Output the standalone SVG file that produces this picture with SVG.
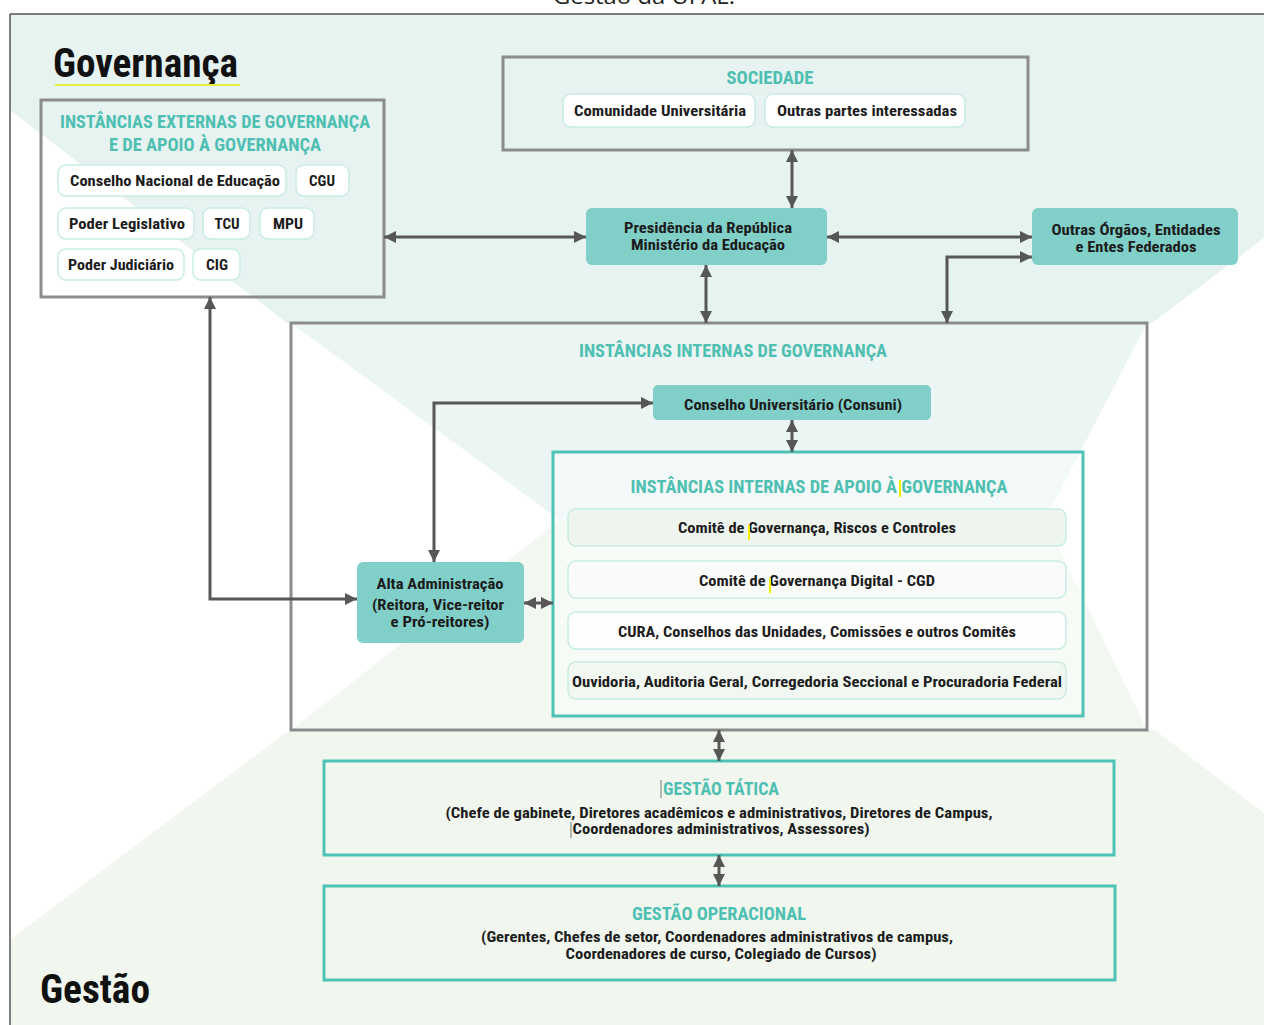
<svg xmlns="http://www.w3.org/2000/svg" width="1264" height="1025" viewBox="0 0 1264 1025">
<style>
.t{font-family:"Liberation Sans Narrow","Roboto Condensed","DejaVu Sans Condensed","Liberation Sans",sans-serif;font-weight:bold;text-anchor:middle;fill:#1c1c1c;font-size:15px}
.s{font-size:14px}
.h{fill:#4fbfb2;font-size:19px}
.big{font-family:"Liberation Sans Narrow","Roboto Condensed","Liberation Sans",sans-serif;font-weight:bold;fill:#111;font-size:40px}
.pill{fill:#fff;stroke:#c9ebe6;stroke-width:1.5}
.row{stroke:#c9ebe6;stroke-width:1.5}
.gbox{fill:none;stroke:#8c8c8c;stroke-width:3}
.tbox{fill:none;stroke:#4ec3b5;stroke-width:3}
.node{fill:#80cfc8}
.c{fill:none;stroke:#575757;stroke-width:3;marker-start:url(#a);marker-end:url(#a)}
.cur{stroke:#777;stroke-width:1}
.yel{fill:#f2f000}
</style>
<defs>
<marker id="a" viewBox="0 0 10 10" refX="10" refY="5" markerWidth="12" markerHeight="12" markerUnits="userSpaceOnUse" orient="auto-start-reverse">
<path d="M0,0 L10,5 L0,10 z" fill="#575757"/>
</marker>
</defs>
<rect width="1264" height="1025" fill="#fff"/>
<text x="553" y="4" style="font-family:'Open Sans','Liberation Sans',sans-serif;font-size:22px;fill:#222" textLength="182" lengthAdjust="spacingAndGlyphs">Gestão da UFAL.</text>
<g id="background">
<rect x="10" y="14" width="1254" height="1011" fill="#fff"/>
<polygon points="10,14 1264,14 1264,238 1152,323 287,323 10,110" fill="#e6f3f1"/>
<polygon points="10,1025 1264,1025 1264,813 1155,730 290,730 10,940" fill="#f1f7ef"/>
<line x1="10" y1="14" x2="1264" y2="14" stroke="#555" stroke-width="1.5"/>
<line x1="10" y1="14" x2="10" y2="1025" stroke="#555" stroke-width="1.5"/>
</g>
<g id="titles">
<text class="big" x="53" y="77" textLength="185" lengthAdjust="spacingAndGlyphs">Governança</text>
<line x1="55" y1="85" x2="240" y2="85" stroke="#e4ef3a" stroke-width="2"/>
<text class="big" x="40" y="1003" textLength="110" lengthAdjust="spacingAndGlyphs">Gestão</text>
</g>
<g id="externas">
<rect class="gbox" x="41" y="100" width="343" height="197"/>
<text class="t h" x="215" y="128" textLength="310" lengthAdjust="spacingAndGlyphs">INSTÂNCIAS EXTERNAS DE GOVERNANÇA</text>
<text class="t h" x="215" y="151" textLength="212" lengthAdjust="spacingAndGlyphs">E DE APOIO À GOVERNANÇA</text>
<rect class="pill" x="58" y="165" width="228" height="31" rx="8"/>
<text class="t" x="175" y="186" textLength="210" lengthAdjust="spacingAndGlyphs">Conselho Nacional de Educação</text>
<rect class="pill" x="296" y="165" width="53" height="31" rx="8"/>
<text class="t" x="322" y="186" textLength="26" lengthAdjust="spacingAndGlyphs">CGU</text>
<rect class="pill" x="58" y="208" width="136" height="31" rx="8"/>
<text class="t" x="127" y="229" textLength="116" lengthAdjust="spacingAndGlyphs">Poder Legislativo</text>
<rect class="pill" x="203" y="208" width="47" height="31" rx="8"/>
<text class="t" x="227" y="229" textLength="25" lengthAdjust="spacingAndGlyphs">TCU</text>
<rect class="pill" x="260" y="208" width="54" height="31" rx="8"/>
<text class="t" x="288" y="229" textLength="30" lengthAdjust="spacingAndGlyphs">MPU</text>
<rect class="pill" x="58" y="249" width="126" height="31" rx="8"/>
<text class="t" x="121" y="270" textLength="106" lengthAdjust="spacingAndGlyphs">Poder Judiciário</text>
<rect class="pill" x="193" y="249" width="47" height="31" rx="8"/>
<text class="t" x="217" y="270" textLength="22" lengthAdjust="spacingAndGlyphs">CIG</text>
</g>
<g id="sociedade">
<rect class="gbox" x="503" y="57" width="525" height="93"/>
<text class="t h" x="770" y="84" textLength="87" lengthAdjust="spacingAndGlyphs">SOCIEDADE</text>
<rect class="pill" x="563" y="94" width="192" height="33" rx="8"/>
<text class="t" x="660" y="116" textLength="172" lengthAdjust="spacingAndGlyphs">Comunidade Universitária</text>
<rect class="pill" x="765" y="94" width="200" height="33" rx="8"/>
<text class="t" x="867" y="116" textLength="180" lengthAdjust="spacingAndGlyphs">Outras partes interessadas</text>
</g>
<g id="presidencia">
<rect class="node" x="586" y="208" width="241" height="57" rx="6"/>
<text class="t" x="708" y="233" textLength="168" lengthAdjust="spacingAndGlyphs">Presidência da República</text>
<text class="t" x="708" y="250" textLength="154" lengthAdjust="spacingAndGlyphs">Ministério da Educação</text>
</g>
<g id="outros">
<rect class="node" x="1032" y="208" width="206" height="57" rx="6"/>
<text class="t" x="1136" y="235" textLength="169" lengthAdjust="spacingAndGlyphs">Outras Órgãos, Entidades</text>
<text class="t" x="1136" y="252" textLength="121" lengthAdjust="spacingAndGlyphs">e Entes Federados</text>
</g>
<g id="internas">
<rect x="291" y="323" width="856" height="407" fill="#fff"/>
<polygon points="291,323 1147,323 1045,520 560,520" fill="#ebf5f3"/>
<polygon points="291,730 1147,730 1045,520 560,520" fill="#f2f8f1"/>
<rect class="gbox" x="291" y="323" width="856" height="407"/>
<text class="t h" x="733" y="357" textLength="308" lengthAdjust="spacingAndGlyphs">INSTÂNCIAS INTERNAS DE GOVERNANÇA</text>
</g>
<g id="consuni">
<rect class="node" x="653" y="385" width="278" height="35" rx="5"/>
<text class="t" x="793" y="410" textLength="218" lengthAdjust="spacingAndGlyphs">Conselho Universitário (Consuni)</text>
</g>
<g id="apoio">
<rect x="553" y="452" width="530" height="264" fill="#fff" fill-opacity="0.4" stroke="#4ec3b5" stroke-width="3"/>
<text class="t h" x="819" y="493" textLength="377" lengthAdjust="spacingAndGlyphs">INSTÂNCIAS INTERNAS DE APOIO À GOVERNANÇA</text>
<rect class="yel" x="899" y="480" width="2" height="17"/>
<rect class="row" x="568" y="509" width="498" height="37" rx="8" fill="#eef5ee"/>
<text class="t" x="817" y="533" textLength="278" lengthAdjust="spacingAndGlyphs">Comitê de Governança, Riscos e Controles</text>
<rect class="yel" x="748" y="525" width="2" height="15"/>
<rect class="row" x="568" y="561" width="498" height="37" rx="8" fill="#f8fbf8"/>
<text class="t" x="817" y="586" textLength="236" lengthAdjust="spacingAndGlyphs">Comitê de Governança Digital - CGD</text>
<rect class="yel" x="769" y="578" width="2" height="15"/>
<rect class="row" x="568" y="612" width="498" height="37" rx="8" fill="#fcfdfc"/>
<text class="t" x="817" y="637" textLength="398" lengthAdjust="spacingAndGlyphs">CURA, Conselhos das Unidades, Comissões e outros Comitês</text>
<rect class="row" x="568" y="662" width="498" height="37" rx="8" fill="#f1f7f1"/>
<text class="t" x="817" y="687" textLength="490" lengthAdjust="spacingAndGlyphs">Ouvidoria, Auditoria Geral, Corregedoria Seccional e Procuradoria Federal</text>
</g>
<g id="alta">
<rect class="node" x="357" y="562" width="167" height="81" rx="6"/>
<text class="t" x="440" y="589" textLength="127" lengthAdjust="spacingAndGlyphs">Alta Administração</text>
<text class="t" x="438" y="610" textLength="132" lengthAdjust="spacingAndGlyphs">(Reitora, Vice-reitor</text>
<text class="t" x="440" y="627" textLength="99" lengthAdjust="spacingAndGlyphs">e Pró-reitores)</text>
</g>
<g id="tatica">
<rect class="tbox" x="324" y="761" width="790" height="94"/>
<text class="t h" x="721" y="795" textLength="116" lengthAdjust="spacingAndGlyphs">GESTÃO TÁTICA</text>
<line class="cur" x1="661" y1="780" x2="661" y2="798"/>
<text class="t s" x="719" y="818" textLength="547" lengthAdjust="spacingAndGlyphs">(Chefe de gabinete, Diretores acadêmicos e administrativos, Diretores de Campus,</text>
<text class="t s" x="721" y="834" textLength="297" lengthAdjust="spacingAndGlyphs">Coordenadores administrativos, Assessores)</text>
<line class="cur" x1="571" y1="822" x2="571" y2="838"/>
</g>
<g id="operacional">
<rect class="tbox" x="324" y="886" width="791" height="94"/>
<text class="t h" x="719" y="920" textLength="174" lengthAdjust="spacingAndGlyphs">GESTÃO OPERACIONAL</text>
<text class="t s" x="717" y="942" textLength="472" lengthAdjust="spacingAndGlyphs">(Gerentes, Chefes de setor, Coordenadores administrativos de campus,</text>
<text class="t s" x="721" y="959" textLength="311" lengthAdjust="spacingAndGlyphs">Coordenadores de curso, Colegiado de Cursos)</text>
</g>
<g id="connectors">
<path class="c" d="M792,150 V208"/>
<path class="c" d="M384,237 H586"/>
<path class="c" d="M827,237 H1032"/>
<path class="c" d="M947,323 V257 H1032"/>
<path class="c" d="M706,265 V323"/>
<path class="c" d="M210,297 V599 H357"/>
<path class="c" d="M653,403 H434 V562"/>
<path class="c" d="M792,420 V452"/>
<path class="c" d="M524,603 H553"/>
<path class="c" d="M719,730 V761"/>
<path class="c" d="M719,855 V886"/>
</g>
</svg>
